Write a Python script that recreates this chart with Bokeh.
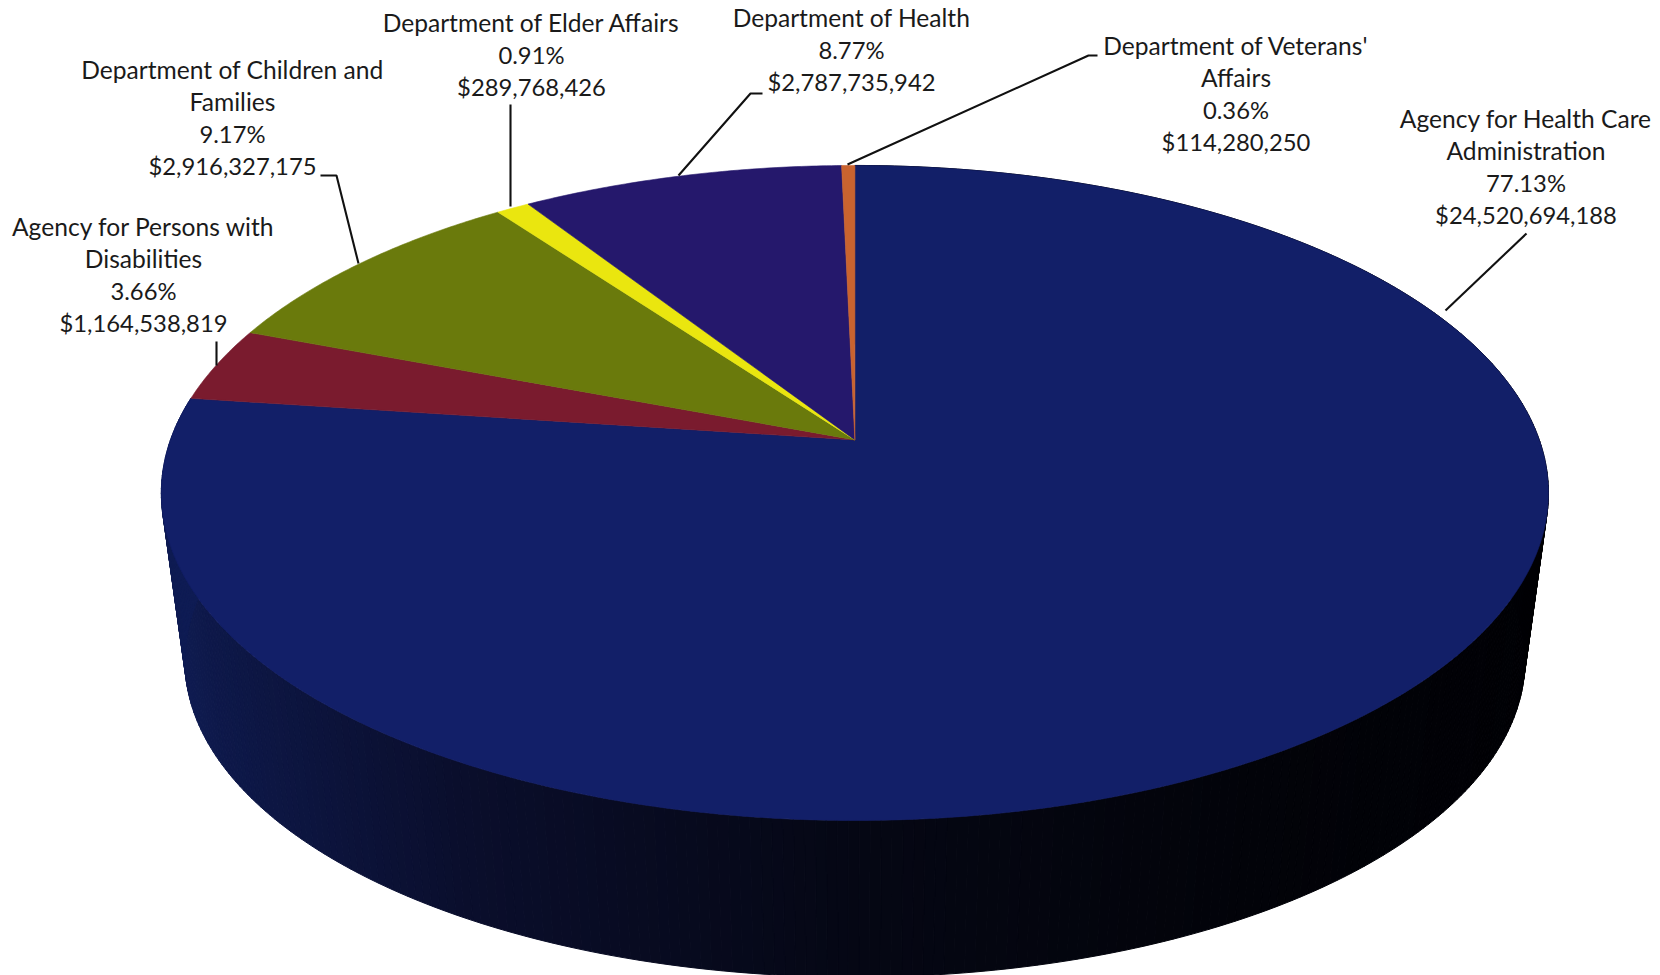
from bokeh.core.properties import value
from bokeh.embed import file_html
from bokeh.models import Range1d
from bokeh.plotting import figure
from bokeh.resources import INLINE
import numpy as np

# Budget by agency, clockwise from twelve o'clock
agencies = [
    ["Agency for Health Care", "Administration"],
    ["Agency for Persons with", "Disabilities"],
    ["Department of Children and", "Families"],
    ["Department of Elder Affairs"],
    ["Department of Health"],
    ["Department of Veterans'", "Affairs"],
]
amounts = [24520694188, 1164538819, 2916327175, 289768426, 2787735942, 114280250]
colors = ["#121f68", "#7a1b2e", "#6a7a0c", "#eae60f", "#25186c", "#c9632f"]

# Centre and first-line height of each text block, on the 1660x975 page
label_x = [1525.5, 143, 232, 531, 851, 1235.5]
label_y = [117.5, 225.5, 68.5, 22, 17, 44.5]
LINE_STEP = 32.4

# Leader lines, one polyline per agency
leaders_x = [[1526, 1445], [216, 216], [320, 336, 358], [510, 510], [762, 750, 678], [1097, 1088, 847]]
leaders_y = [[233, 310], [341, 365], [175, 175, 263], [104, 206], [93, 93, 175], [55, 55, 164]]

# Perspective of the disc: its top face and the smaller rim of its underside
APEX_X, APEX_Y = 854.4, 439.4
HALF_W, HALF_H = 684.4, 318.9
TILT = 0.162
DROP, BOTTOM_SCALE = 169.6, 0.966

# Colour of the outer wall from its left to its right end
wall_u = [-1.0, -0.5, 0.0, 0.5, 1.0]
wall_rgb = [(15, 28, 84), (10, 14, 44), (5, 7, 20), (2, 3, 9), (0, 0, 4)]


def project(theta, lower=False):
    """Map clockwise angles on the disc to page coordinates."""
    u, v = np.sin(theta), np.cos(theta)
    w = 1 + TILT * v
    scale = BOTTOM_SCALE if lower else 1.0
    shift = DROP if lower else 0.0
    return APEX_X + scale * HALF_W * u / w, APEX_Y + shift - scale * HALF_H * v / w


p = figure(
    width=1660, height=975, output_backend="svg", toolbar_location=None,
    x_range=Range1d(0, 1660), y_range=Range1d(975, 0),
    min_border=0, background_fill_color="white", border_fill_color="white",
    outline_line_color=None,
)
p.axis.visible = False
p.grid.visible = False

total = sum(amounts)
edges = np.concatenate([[0.0], np.cumsum(amounts)]) / total * 2 * np.pi

# Outer wall, built from narrow strips so the shade can change along it
steps = np.linspace(edges[0], edges[1], 361)
strips_x, strips_y, strip_colors = [], [], []
for a, b in zip(steps[:-1], steps[1:]):
    tx, ty = project(np.array([a, b]))
    bx, by = project(np.array([b, a]), lower=True)
    strips_x.append(list(tx) + list(bx))
    strips_y.append(list(ty) + list(by))
    u = np.sin((a + b) / 2)
    rgb = [int(round(np.interp(u, wall_u, [c[i] for c in wall_rgb]))) for i in range(3)]
    strip_colors.append("#%02x%02x%02x" % tuple(rgb))
p.patches(strips_x, strips_y, fill_color=strip_colors, line_color=strip_colors, line_width=1)

# Top face
for start, end, color in zip(edges[:-1], edges[1:], colors):
    theta = np.linspace(start, end, max(int((end - start) * 120), 4))
    rim_x, rim_y = project(theta)
    p.patch(
        [APEX_X] + list(rim_x), [APEX_Y] + list(rim_y),
        fill_color=color, line_color=color, line_width=0.6,
    )

p.multi_line(leaders_x, leaders_y, line_color="#111111", line_width=2.1)

# Text blocks: agency name in the larger size, then share and amount
name_x, name_y, name_s, num_x, num_y, num_s = [], [], [], [], [], []
for name, amount, x, y in zip(agencies, amounts, label_x, label_y):
    for i, line in enumerate(name):
        name_x.append(x)
        name_y.append(y + i * LINE_STEP)
        name_s.append(line)
    for i, line in enumerate([f"{amount / total:.2%}", f"${amount:,}"], start=len(name)):
        num_x.append(x)
        num_y.append(y + i * LINE_STEP)
        num_s.append(line)
p.text(
    name_x, name_y, text=name_s, text_font=value("Lato"), text_font_size="24.6px",
    text_color="#1a1a1a", text_align="center", text_baseline="middle",
)
p.text(
    num_x, num_y, text=num_s, text_font=value("Lato"), text_font_size="23.8px",
    text_color="#1a1a1a", text_align="center", text_baseline="middle",
)

open("out.html", "w").write(file_html(p, INLINE))
